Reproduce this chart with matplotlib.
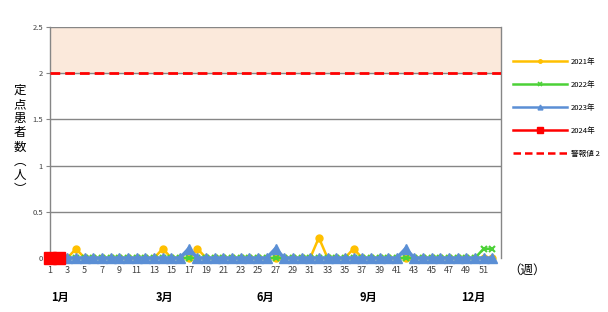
import matplotlib
matplotlib.use("Agg")
import matplotlib.pyplot as plt
from matplotlib.lines import Line2D
from matplotlib.transforms import blended_transform_factory
from matplotlib.ticker import FuncFormatter

plt.rcParams['font.family'] = ['Noto Sans CJK JP', 'DejaVu Sans']

weeks = list(range(1, 53))
y2021 = [0, 0, 0, 0.1, 0, 0, 0, 0, 0, 0, 0, 0, 0, 0.1, 0, 0, 0, 0.1, 0, 0,
         0, 0, 0, 0, 0, 0, 0, 0, 0, 0, 0, 0.22, 0, 0, 0, 0.1, 0, 0, 0, 0,
         0, 0, 0, 0, 0, 0, 0, 0, 0, 0, 0, 0]
y2022 = [0, 0, 0, 0, 0, 0, 0, 0, 0, 0, 0, 0, 0, 0, 0, 0, 0, 0, 0, 0,
         0, 0, 0, 0, 0, 0, 0, 0, 0, 0, 0, 0, 0, 0, 0, 0, 0, 0, 0, 0,
         0, 0, 0, 0, 0, 0, 0, 0, 0, 0, 0.1, 0.1]
y2023 = [0, 0, 0, 0, 0, 0, 0, 0, 0, 0, 0, 0, 0, 0, 0, 0, 0.1, 0, 0, 0,
         0, 0, 0, 0, 0, 0, 0.1, 0, 0, 0, 0, 0, 0, 0, 0, 0, 0, 0, 0, 0,
         0, 0.1, 0, 0, 0, 0, 0, 0, 0, 0, 0, 0]
weeks2024 = [1, 2]
y2024 = [0, 0]
alert_level = 2
y_max = 2.5
series_labels = ['2021年', '2022年', '2023年', '2024年', '警報値 2']
month_labels = ['1月', '3月', '6月', '9月', '12月']
month_pos = [2.1, 14.2, 25.8, 37.7, 49.8]
x_ticks = list(range(1, 53, 2))
y_ticks = [0, 0.5, 1, 1.5, 2, 2.5]

c21, c22, c23, c24 = '#FFC000', '#4CD137', '#5B8FD5', '#FF0000'

fig = plt.figure(figsize=(6.08, 3.12), dpi=100)
ax = fig.add_axes([50/608, 1-258/312, (501-50)/608, (258-27)/312])

ax.axhspan(alert_level, y_max, color='#FBE9DB', zorder=0)
for yv in y_ticks[1:]:
    ax.axhline(yv, color='#868686', lw=1.0, zorder=1)

ax.plot(weeks, y2021, color=c21, lw=1.8, marker='o', ms=5, zorder=3, clip_on=False)
ax.plot(weeks, y2022, color=c22, lw=1.8, marker='x', ms=5, mew=1.5, zorder=4, clip_on=False)
ax.plot(weeks, y2023, color=c23, lw=2.6, marker='^', ms=6.5, zorder=5, clip_on=False)
ax.plot(weeks2024, y2024, color=c24, lw=2.6, marker='s', ms=8, zorder=6, clip_on=False)
ax.plot([1, 53], [alert_level, alert_level], color=c24, lw=2, ls=(0, (3.5, 1.8)), zorder=6)

ax.set_xlim(1, 53)
ax.set_ylim(0, y_max)
ax.set_xticks(x_ticks)
ax.set_xticklabels([str(t) for t in x_ticks], fontsize=6.5, color='#404040')
ax.set_yticks(y_ticks)
ax.yaxis.set_major_formatter(FuncFormatter(lambda v, p: ('%g' % v)))
ax.tick_params(axis='y', labelsize=5.5, colors='#404040', length=3, color='#868686', pad=2)
ax.tick_params(axis='x', length=0, pad=6)
for s in ['top', 'bottom']:
    ax.spines[s].set_visible(False)
for s in ['left', 'right']:
    ax.spines[s].set_color('#868686')
    ax.spines[s].set_linewidth(1.0)

ylab = '\n'.join(['定', '点', '患', '者', '数', '︵', '人', '︶'])
fig.text(20/608, 1-140/312, ylab, fontsize=9, ha='center', va='center', linespacing=1.12)

tr = blended_transform_factory(ax.transData, fig.transFigure)
for lab, pos in zip(month_labels, month_pos):
    ax.text(pos, 1-297/312, lab, transform=tr, fontsize=8, fontweight='bold',
            ha='center', va='center')
fig.text(527/608, 1-270/312, '（週）', fontsize=9, ha='center', va='center')

handles = [
    Line2D([], [], color=c21, lw=1.8, marker='o', ms=2.5),
    Line2D([], [], color=c22, lw=1.8, marker='x', ms=3, mew=1.2),
    Line2D([], [], color=c23, lw=1.8, marker='^', ms=3.5),
    Line2D([], [], color=c24, lw=1.8, marker='s', ms=4),
    Line2D([], [], color=c24, lw=1.8, ls=(0, (3, 1.6))),
]
fig.legend(handles, series_labels, loc='upper left',
           bbox_to_anchor=(510/608, 1-55/312), frameon=False, fontsize=5.5,
           handlelength=7.0, handletextpad=0.6, labelspacing=1.95, borderaxespad=0)

fig.savefig('out.png', dpi=100)
